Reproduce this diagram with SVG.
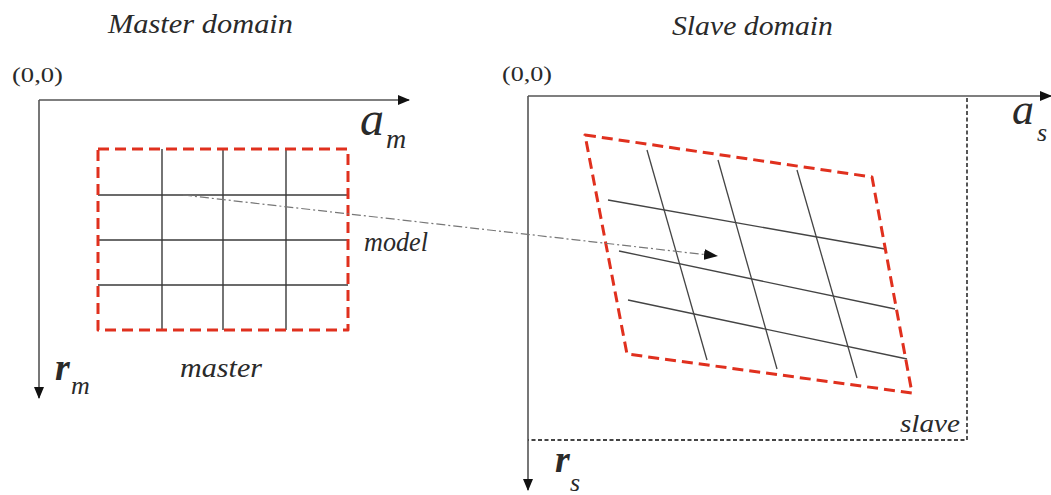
<svg xmlns="http://www.w3.org/2000/svg" width="1051" height="495" viewBox="0 0 1051 495">
<style>
.t{font-family:'Liberation Serif','Times New Roman',serif;font-style:italic;fill:#2a2a2a}
.n{font-family:'Liberation Serif','Times New Roman',serif;fill:#2a2a2a}
.axis{stroke:#555;stroke-width:1.6;fill:none}
.grid{stroke:#3a3a3a;stroke-width:1.4;fill:none}
.red{stroke:#e0301e;stroke-width:3;stroke-dasharray:11 6;fill:none;stroke-linejoin:round}
.dot{stroke:#444;stroke-width:1.8;stroke-dasharray:4 2.5;fill:none}
.thin{stroke:#444;stroke-width:1.3;fill:none}
</style>
<defs>
<marker id="ah" markerWidth="12" markerHeight="10" refX="11" refY="5" orient="auto" markerUnits="userSpaceOnUse">
<path d="M0,0 L12,5 L0,10 Z" fill="#111"/>
</marker>
<marker id="ah2" markerWidth="14" markerHeight="11" refX="13" refY="5.5" orient="auto" markerUnits="userSpaceOnUse">
<path d="M0,0 L14,5.5 L0,11 Z" fill="#111"/>
</marker>
</defs>
<rect width="1051" height="495" fill="#fff"/>

<g id="master-domain">
<text class="t" x="108" y="33" font-size="27" textLength="185" lengthAdjust="spacingAndGlyphs">Master domain</text>
<text class="n" x="12" y="82" font-size="21" textLength="51" lengthAdjust="spacingAndGlyphs">(0,0)</text>
<line class="axis" x1="39" y1="100" x2="409" y2="100" marker-end="url(#ah)"/>
<line class="axis" x1="39" y1="100" x2="39" y2="398" marker-end="url(#ah)"/>
<text class="t" x="360" y="135" font-size="48">a</text>
<text class="t" x="386" y="148" font-size="28">m</text>
<text class="t" x="55" y="380" font-size="38" font-weight="bold">r</text>
<text class="t" x="71" y="394" font-size="26">m</text>
</g>

<g id="master">
<line class="grid" x1="98" y1="195" x2="348" y2="195"/>
<line class="grid" x1="98" y1="240" x2="348" y2="240"/>
<line class="grid" x1="98" y1="285" x2="348" y2="285"/>
<line class="grid" x1="162" y1="149" x2="162" y2="330"/>
<line class="grid" x1="223" y1="149" x2="223" y2="330"/>
<line class="grid" x1="286" y1="149" x2="286" y2="330"/>
<rect class="red" x="98" y="149" width="250" height="181"/>
<text class="t" x="180" y="377" font-size="27" textLength="82" lengthAdjust="spacingAndGlyphs">master</text>
</g>

<g id="slave-domain">
<text class="t" x="672" y="35" font-size="27" textLength="161" lengthAdjust="spacingAndGlyphs">Slave domain</text>
<text class="n" x="502" y="81" font-size="21" textLength="50" lengthAdjust="spacingAndGlyphs">(0,0)</text>
<line class="axis" x1="528" y1="96" x2="1051" y2="96" marker-end="url(#ah)"/>
<line class="axis" x1="528" y1="96" x2="528" y2="490" marker-end="url(#ah)"/>
<polyline class="dot" points="967,98 967,440 528,440"/>
<text class="t" x="1012" y="124" font-size="44">a</text>
<text class="t" x="1037" y="141" font-size="26">s</text>
<text class="t" x="555" y="472" font-size="38" font-weight="bold">r</text>
<text class="t" x="570" y="491" font-size="26">s</text>
<text class="t" x="900" y="432" font-size="26" textLength="60" lengthAdjust="spacingAndGlyphs">slave</text>
</g>

<g id="slave">
<line class="thin" x1="647" y1="150" x2="707" y2="360"/>
<line class="thin" x1="718" y1="160" x2="777" y2="369"/>
<line class="thin" x1="797" y1="170" x2="857" y2="378"/>
<line class="thin" x1="608" y1="200" x2="885" y2="249"/>
<line class="thin" x1="619" y1="251" x2="895" y2="309"/>
<line class="thin" x1="628" y1="300" x2="907" y2="359"/>
<polygon class="red" points="585,135 872,177 912,393 627,354"/>
</g>

<g id="connectors">
<line x1="183" y1="195" x2="717" y2="256" stroke="#777" stroke-width="1.2" stroke-dasharray="9 3 2 3" marker-end="url(#ah2)"/>
<text class="t" x="364" y="251" font-size="27" textLength="64" lengthAdjust="spacingAndGlyphs">model</text>
</g>
</svg>
